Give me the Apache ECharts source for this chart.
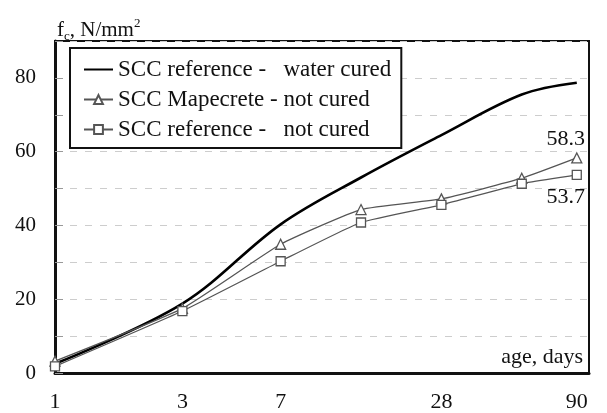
<!DOCTYPE html>
<html><head><meta charset="utf-8">
<script src="https://cdn.jsdelivr.net/npm/echarts@6/dist/echarts.min.js"></script>
<style>html,body{margin:0;padding:0;background:#fff}#c{width:607px;height:413px}</style>
</head><body><div id="c"></div>
<script>
const days = [1, 3, 7, 14, 28, 56, 90];
const xTickLabels = [1, 3, 7, 28, 90];
const waterCured = [2.5, 18.8, 40.3, 53.0, 64.5, 75.5, 78.7];
const mapecreteNotCured = [3.2, 17.5, 34.9, 44.3, 47.2, 52.8, 58.3];
const referenceNotCured = [1.8, 16.8, 30.3, 40.8, 45.6, 51.3, 53.7];
const seriesNames = ['SCC reference -   water cured', 'SCC Mapecrete - not cured', 'SCC reference -   not cured'];

const FONT = 'Liberation Serif';
const pair = arr => arr.map((v, i) => [days[i], v]);
const last = days.length - 1;

const chart = echarts.init(document.getElementById('c'), null, {renderer: 'canvas'});
chart.setOption({
  animation: false,
  backgroundColor: '#fff',
  title: {
    text: '{f|f}{s|c}{f|, N/mm}{p|2}',
    left: 52, top: 12,
    textStyle: {
      fontWeight: 'normal',
      rich: {
        f: {fontFamily: FONT, fontSize: 21, fontWeight: 'normal', color: '#111', lineHeight: 26},
        s: {fontFamily: FONT, fontSize: 13, fontWeight: 'normal', color: '#111', lineHeight: 13, verticalAlign: 'bottom'},
        p: {fontFamily: FONT, fontSize: 13, fontWeight: 'normal', color: '#111', lineHeight: 13, verticalAlign: 'top'}
      }
    }
  },
  grid: {left: 55, top: 41, right: 18, bottom: 39, show: true, borderColor: '#111', borderWidth: 2, backgroundColor: 'transparent'},
  legend: {
    orient: 'vertical', left: 70, top: 48,
    padding: [10, 10, 7, 13],
    borderColor: '#111', borderWidth: 2, backgroundColor: '#fff',
    itemWidth: 29, itemHeight: 11, itemGap: 7,
    textStyle: {fontFamily: FONT, fontSize: 23, lineHeight: 22, color: '#111'},
    data: [
      {name: seriesNames[0], itemStyle: {color: 'rgba(0,0,0,0)', borderColor: 'rgba(0,0,0,0)', borderWidth: 0, opacity: 0}},
      {name: seriesNames[1]},
      {name: seriesNames[2]}
    ]
  },
  xAxis: {
    type: 'log', logBase: 10, min: 1, max: 100,
    axisLine: {show: true, lineStyle: {color: '#111', width: 3}},
    axisTick: {show: false},
    splitLine: {show: false},
    minorTick: {show: false},
    axisLabel: {customValues: xTickLabels, fontFamily: FONT, fontSize: 22, color: '#111', margin: 18, formatter: v => String(v)}
  },
  yAxis: {
    type: 'value', min: 0, max: 90, interval: 10,
    axisLine: {show: true, lineStyle: {color: '#111', width: 3}},
    axisTick: {show: true, inside: true, length: 8, lineStyle: {color: '#999', width: 1}},
    splitLine: {show: true, lineStyle: {color: '#cdcdcd', width: 1, type: [7, 8]}},
    axisLabel: {fontFamily: FONT, fontSize: 21, color: '#111', margin: 19, formatter: v => (v % 20 === 0 && v <= 80) ? String(v) : ''}
  },
  graphic: [{
    type: 'text', right: 24, top: 346, z: 100,
    style: {text: 'age, days', font: '22px "Liberation Serif"', fill: '#111'}
  }],
  series: [
    {
      name: seriesNames[0], type: 'line', data: pair(waterCured), smooth: 0.35,
      symbol: 'none', showSymbol: false,
      lineStyle: {color: '#000', width: 2.6}, itemStyle: {color: '#000'}, z: 3
    },
    {
      name: seriesNames[1], type: 'line', data: pair(mapecreteNotCured), smooth: 0.15,
      symbol: 'triangle', symbolSize: 10, showSymbol: true,
      lineStyle: {color: '#555', width: 1.3},
      itemStyle: {color: '#fff', borderColor: '#555', borderWidth: 1.3},
      label: {show: true, position: 'top', distance: 6, offset: [-11, 4], fontFamily: FONT, fontSize: 22, color: '#111',
        formatter: p => p.dataIndex === last ? String(p.value[1]) : ''}
    },
    {
      name: seriesNames[2], type: 'line', data: pair(referenceNotCured), smooth: 0.15,
      symbol: 'rect', symbolSize: 9, showSymbol: true,
      lineStyle: {color: '#555', width: 1.3},
      itemStyle: {color: '#fff', borderColor: '#555', borderWidth: 1.3},
      label: {show: true, position: 'bottom', distance: 6, offset: [-11, 0], fontFamily: FONT, fontSize: 22, color: '#111',
        formatter: p => p.dataIndex === last ? String(p.value[1]) : ''}
    }
  ]
});
</script></body></html>
